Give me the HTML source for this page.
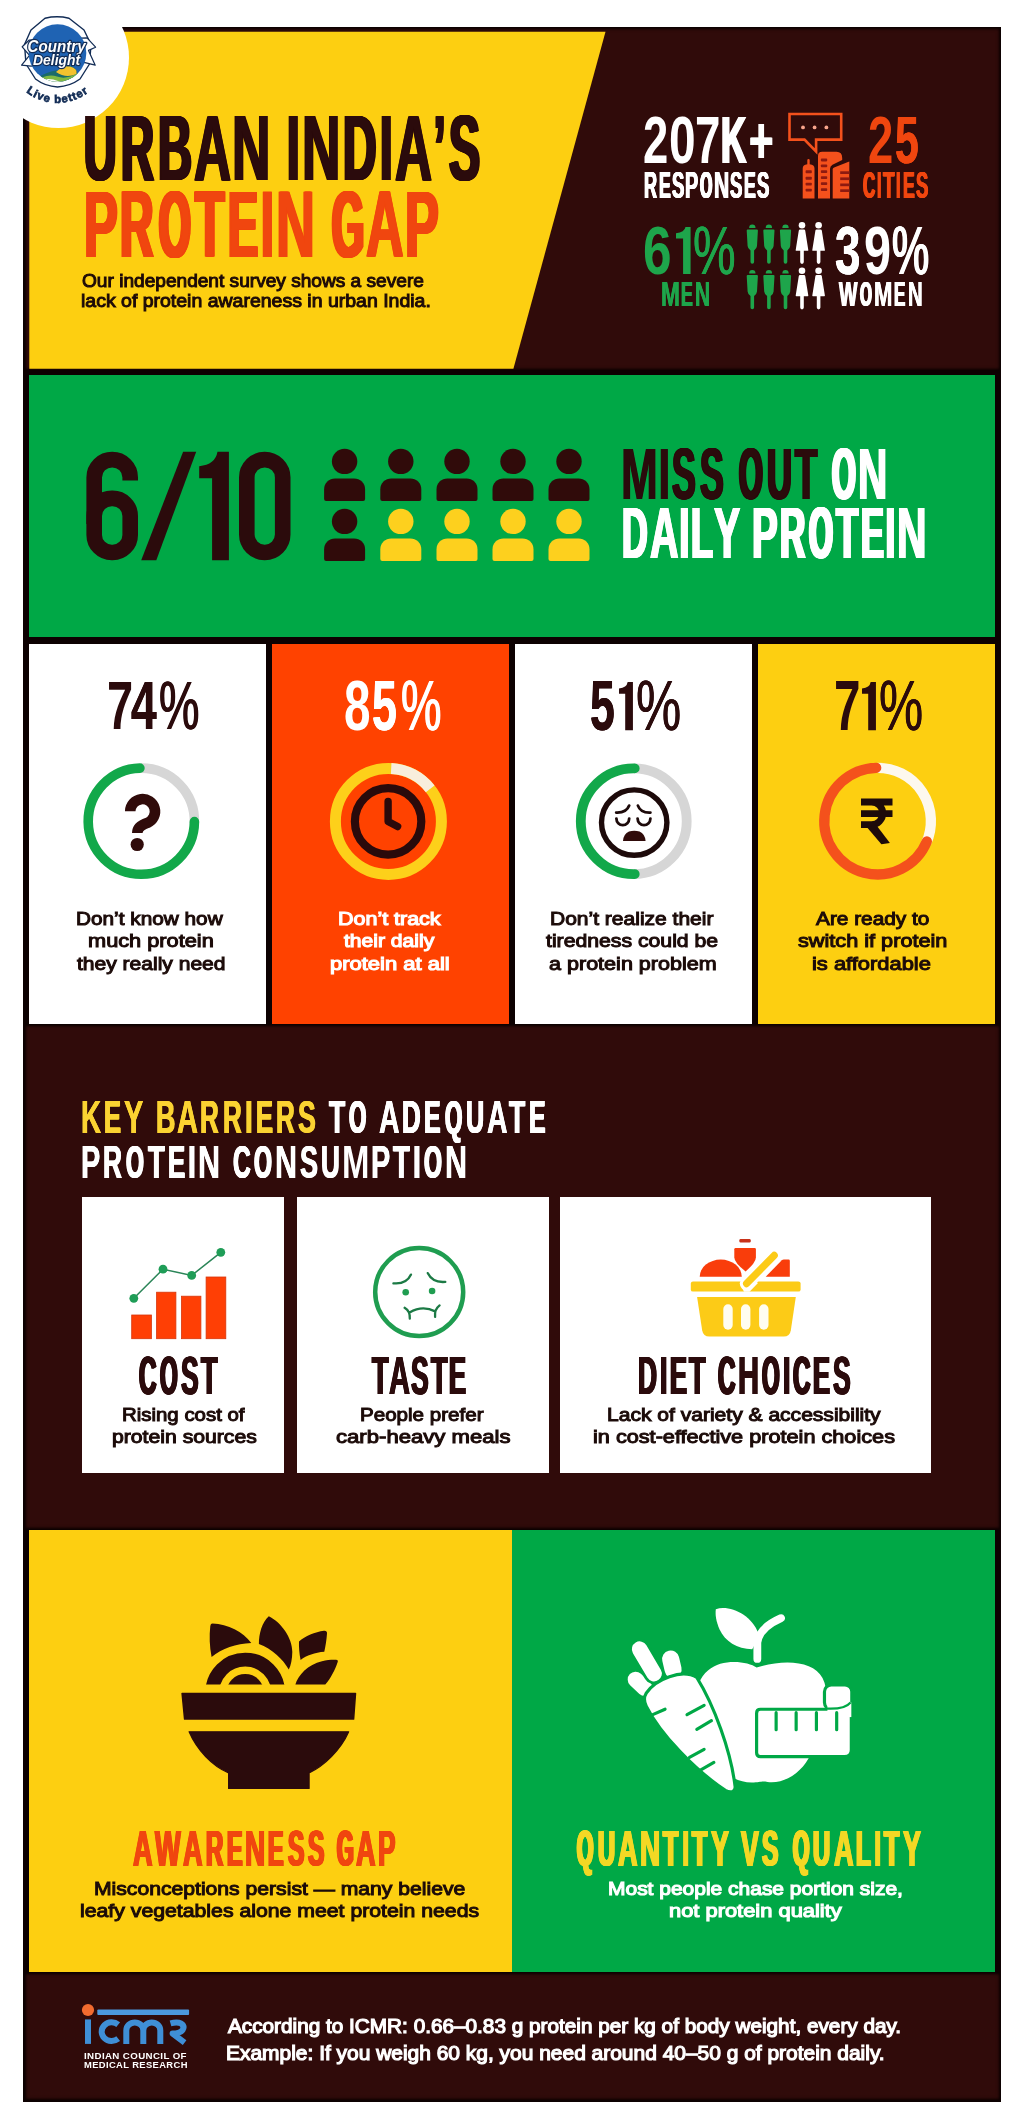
<!DOCTYPE html>
<html lang="en"><head><meta charset="utf-8"><title>Urban India's Protein Gap</title>
<style>
html,body{margin:0;padding:0;background:#fff;}
body{width:1024px;height:2124px;position:relative;overflow:hidden;font-family:"Liberation Sans",sans-serif;}
.b{position:absolute;}
.t{position:absolute;white-space:nowrap;font-weight:700;transform-origin:0 0;font-family:"Liberation Sans",sans-serif;}
svg{position:absolute;overflow:visible;}
#pg{position:absolute;left:0;top:0;width:1024px;height:2124px;will-change:transform;}
</style></head><body><div id="pg">
<div class="b" style="left:23.3px;top:26.5px;width:977.9px;height:2075.0px;background:#0d0101;"></div>
<div class="b" style="left:24.6px;top:28px;width:975.3px;height:341.5px;background:#300b0a;box-shadow:inset 0 0 2.5px 1.2px #0d0101;"></div>
<div class="b" style="left:24.6px;top:1025.4px;width:975.3px;height:503.8px;background:#300b0a;box-shadow:inset 0 0 2.5px 1.2px #0d0101;"></div>
<div class="b" style="left:24.6px;top:1972.8px;width:975.3px;height:127.4px;background:#300b0a;box-shadow:inset 0 0 2.5px 1.2px #0d0101;"></div>
<div class="b" style="left:0;top:0;width:1024px;height:400px;background:#fdcf11;clip-path:polygon(29.3px 31.8px,605.5px 31.8px,513.4px 368.8px,29.3px 368.8px);"></div>
<div class="b" style="left:29.3px;top:374.6px;width:965.5px;height:262.3px;background:#00a846;"></div>
<div class="b" style="left:29.3px;top:644.3px;width:236.3px;height:379.9px;background:#fff;"></div>
<div class="b" style="left:272.1px;top:644.3px;width:236.6px;height:379.9px;background:#ff4200;"></div>
<div class="b" style="left:515.1px;top:644.3px;width:236.5px;height:379.9px;background:#fff;"></div>
<div class="b" style="left:758.0px;top:644.3px;width:236.8px;height:379.9px;background:#fdcf11;"></div>
<div class="b" style="left:82.1px;top:1197.2px;width:202.3px;height:276.0px;background:#fff;"></div>
<div class="b" style="left:297.3px;top:1197.2px;width:251.5px;height:276.0px;background:#fff;"></div>
<div class="b" style="left:559.6px;top:1197.2px;width:371.1px;height:276.0px;background:#fff;"></div>
<div class="b" style="left:29.3px;top:1530.4px;width:482.3px;height:441.2px;background:#fdcf11;"></div>
<div class="b" style="left:511.6px;top:1530.4px;width:483.2px;height:441.2px;background:#00a846;"></div>
<div class="b" style="left:-12.5px;top:-13px;width:141px;height:141px;border-radius:50%;background:#fff;"></div>
<div class="t" style="left:84.1px;top:101.2px;font-size:93.6px;line-height:93.6px;color:#2b0b0c;transform:scaleX(0.4812);text-shadow:0.81px 0 0 #2b0b0c,-0.81px 0 0 #2b0b0c,1.61px 0 0 #2b0b0c,-1.61px 0 0 #2b0b0c,2.42px 0 0 #2b0b0c,-2.42px 0 0 #2b0b0c,3.23px 0 0 #2b0b0c,-3.23px 0 0 #2b0b0c;">U</div>
<div class="t" style="left:120.5px;top:101.2px;font-size:93.6px;line-height:93.6px;color:#2b0b0c;transform:scaleX(0.4879);text-shadow:0.77px 0 0 #2b0b0c,-0.77px 0 0 #2b0b0c,1.55px 0 0 #2b0b0c,-1.55px 0 0 #2b0b0c,2.32px 0 0 #2b0b0c,-2.32px 0 0 #2b0b0c,3.10px 0 0 #2b0b0c,-3.10px 0 0 #2b0b0c;">R</div>
<div class="t" style="left:157.8px;top:101.2px;font-size:93.6px;line-height:93.6px;color:#2b0b0c;transform:scaleX(0.5038);text-shadow:0.69px 0 0 #2b0b0c,-0.69px 0 0 #2b0b0c,1.39px 0 0 #2b0b0c,-1.39px 0 0 #2b0b0c,2.08px 0 0 #2b0b0c,-2.08px 0 0 #2b0b0c,2.77px 0 0 #2b0b0c,-2.77px 0 0 #2b0b0c;">B</div>
<div class="t" style="left:193.8px;top:101.2px;font-size:93.6px;line-height:93.6px;color:#2b0b0c;transform:scaleX(0.5481);text-shadow:0.67px 0 0 #2b0b0c,-0.67px 0 0 #2b0b0c,1.33px 0 0 #2b0b0c,-1.33px 0 0 #2b0b0c,2.00px 0 0 #2b0b0c,-2.00px 0 0 #2b0b0c;">A</div>
<div class="t" style="left:231.9px;top:101.2px;font-size:93.6px;line-height:93.6px;color:#2b0b0c;transform:scaleX(0.5672);text-shadow:0.84px 0 0 #2b0b0c,-0.84px 0 0 #2b0b0c,1.68px 0 0 #2b0b0c,-1.68px 0 0 #2b0b0c;">N</div>
<div class="t" style="left:285.3px;top:101.2px;font-size:93.6px;line-height:93.6px;color:#2b0b0c;transform:scaleX(0.6312);text-shadow:0.55px 0 0 #2b0b0c,-0.55px 0 0 #2b0b0c;">I</div>
<div class="t" style="left:302.1px;top:101.2px;font-size:93.6px;line-height:93.6px;color:#2b0b0c;transform:scaleX(0.5672);text-shadow:0.84px 0 0 #2b0b0c,-0.84px 0 0 #2b0b0c,1.68px 0 0 #2b0b0c,-1.68px 0 0 #2b0b0c;">N</div>
<div class="t" style="left:342.8px;top:101.2px;font-size:93.6px;line-height:93.6px;color:#2b0b0c;transform:scaleX(0.4959);text-shadow:0.73px 0 0 #2b0b0c,-0.73px 0 0 #2b0b0c,1.46px 0 0 #2b0b0c,-1.46px 0 0 #2b0b0c,2.20px 0 0 #2b0b0c,-2.20px 0 0 #2b0b0c,2.93px 0 0 #2b0b0c,-2.93px 0 0 #2b0b0c;">D</div>
<div class="t" style="left:378.1px;top:101.2px;font-size:93.6px;line-height:93.6px;color:#2b0b0c;transform:scaleX(0.6312);text-shadow:0.55px 0 0 #2b0b0c,-0.55px 0 0 #2b0b0c;">I</div>
<div class="t" style="left:394.5px;top:101.2px;font-size:93.6px;line-height:93.6px;color:#2b0b0c;transform:scaleX(0.5481);text-shadow:0.67px 0 0 #2b0b0c,-0.67px 0 0 #2b0b0c,1.33px 0 0 #2b0b0c,-1.33px 0 0 #2b0b0c,2.00px 0 0 #2b0b0c,-2.00px 0 0 #2b0b0c;">A</div>
<div class="t" style="left:433.8px;top:101.2px;font-size:93.6px;line-height:93.6px;color:#2b0b0c;transform:scaleX(0.4324);text-shadow:0.73px 0 0 #2b0b0c,-0.73px 0 0 #2b0b0c,1.46px 0 0 #2b0b0c,-1.46px 0 0 #2b0b0c,2.19px 0 0 #2b0b0c,-2.19px 0 0 #2b0b0c,2.92px 0 0 #2b0b0c,-2.92px 0 0 #2b0b0c;">’</div>
<div class="t" style="left:449.3px;top:101.2px;font-size:93.6px;line-height:93.6px;color:#2b0b0c;transform:scaleX(0.4985);text-shadow:0.72px 0 0 #2b0b0c,-0.72px 0 0 #2b0b0c,1.44px 0 0 #2b0b0c,-1.44px 0 0 #2b0b0c,2.15px 0 0 #2b0b0c,-2.15px 0 0 #2b0b0c,2.87px 0 0 #2b0b0c,-2.87px 0 0 #2b0b0c;">S</div>
<div class="t" style="left:83.6px;top:176.9px;font-size:95.1px;line-height:95.1px;color:#f0460f;transform:scaleX(0.5338);text-shadow:0.75px 0 0 #f0460f,-0.75px 0 0 #f0460f,1.50px 0 0 #f0460f,-1.50px 0 0 #f0460f,2.24px 0 0 #f0460f,-2.24px 0 0 #f0460f;">P</div>
<div class="t" style="left:120.1px;top:176.9px;font-size:95.1px;line-height:95.1px;color:#f0460f;transform:scaleX(0.4879);text-shadow:0.79px 0 0 #f0460f,-0.79px 0 0 #f0460f,1.57px 0 0 #f0460f,-1.57px 0 0 #f0460f,2.36px 0 0 #f0460f,-2.36px 0 0 #f0460f,3.15px 0 0 #f0460f,-3.15px 0 0 #f0460f;">R</div>
<div class="t" style="left:159.0px;top:176.9px;font-size:95.1px;line-height:95.1px;color:#f0460f;transform:scaleX(0.4265);text-shadow:0.78px 0 0 #f0460f,-0.78px 0 0 #f0460f,1.55px 0 0 #f0460f,-1.55px 0 0 #f0460f,2.33px 0 0 #f0460f,-2.33px 0 0 #f0460f,3.10px 0 0 #f0460f,-3.10px 0 0 #f0460f,3.88px 0 0 #f0460f,-3.88px 0 0 #f0460f,4.65px 0 0 #f0460f,-4.65px 0 0 #f0460f;">O</div>
<div class="t" style="left:194.8px;top:176.9px;font-size:95.1px;line-height:95.1px;color:#f0460f;transform:scaleX(0.5080);text-shadow:0.68px 0 0 #f0460f,-0.68px 0 0 #f0460f,1.36px 0 0 #f0460f,-1.36px 0 0 #f0460f,2.04px 0 0 #f0460f,-2.04px 0 0 #f0460f,2.72px 0 0 #f0460f,-2.72px 0 0 #f0460f;">T</div>
<div class="t" style="left:227.6px;top:176.9px;font-size:95.1px;line-height:95.1px;color:#f0460f;transform:scaleX(0.4760);text-shadow:0.84px 0 0 #f0460f,-0.84px 0 0 #f0460f,1.68px 0 0 #f0460f,-1.68px 0 0 #f0460f,2.52px 0 0 #f0460f,-2.52px 0 0 #f0460f,3.36px 0 0 #f0460f,-3.36px 0 0 #f0460f;">E</div>
<div class="t" style="left:258.9px;top:176.9px;font-size:95.1px;line-height:95.1px;color:#f0460f;transform:scaleX(0.6312);text-shadow:0.55px 0 0 #f0460f,-0.55px 0 0 #f0460f;">I</div>
<div class="t" style="left:275.6px;top:176.9px;font-size:95.1px;line-height:95.1px;color:#f0460f;transform:scaleX(0.5672);text-shadow:0.85px 0 0 #f0460f,-0.85px 0 0 #f0460f,1.71px 0 0 #f0460f,-1.71px 0 0 #f0460f;">N</div>
<div class="t" style="left:332.2px;top:176.9px;font-size:95.1px;line-height:95.1px;color:#f0460f;transform:scaleX(0.4336);text-shadow:0.89px 0 0 #f0460f,-0.89px 0 0 #f0460f,1.78px 0 0 #f0460f,-1.78px 0 0 #f0460f,2.67px 0 0 #f0460f,-2.67px 0 0 #f0460f,3.56px 0 0 #f0460f,-3.56px 0 0 #f0460f,4.45px 0 0 #f0460f,-4.45px 0 0 #f0460f;">G</div>
<div class="t" style="left:366.2px;top:176.9px;font-size:95.1px;line-height:95.1px;color:#f0460f;transform:scaleX(0.5481);text-shadow:0.68px 0 0 #f0460f,-0.68px 0 0 #f0460f,1.36px 0 0 #f0460f,-1.36px 0 0 #f0460f,2.03px 0 0 #f0460f,-2.03px 0 0 #f0460f;">A</div>
<div class="t" style="left:404.9px;top:176.9px;font-size:95.1px;line-height:95.1px;color:#f0460f;transform:scaleX(0.5338);text-shadow:0.75px 0 0 #f0460f,-0.75px 0 0 #f0460f,1.50px 0 0 #f0460f,-1.50px 0 0 #f0460f,2.24px 0 0 #f0460f,-2.24px 0 0 #f0460f;">P</div>
<div class="t" style="left:643.1px;top:106.0px;font-size:67.3px;line-height:67.3px;color:#fff;transform:scaleX(0.6749);">2</div>
<div class="t" style="left:668.7px;top:106.0px;font-size:67.3px;line-height:67.3px;color:#fff;transform:scaleX(0.7109);">0</div>
<div class="t" style="left:695.1px;top:106.0px;font-size:67.3px;line-height:67.3px;color:#fff;transform:scaleX(0.6791);">7</div>
<div class="t" style="left:720.7px;top:106.0px;font-size:67.3px;line-height:67.3px;color:#fff;transform:scaleX(0.5243);text-shadow:0.86px 0 0 #fff,-0.86px 0 0 #fff,1.73px 0 0 #fff,-1.73px 0 0 #fff;">K</div>
<div class="t" style="left:748.5px;top:106.0px;font-size:67.3px;line-height:67.3px;color:#fff;transform:scaleX(0.6231);text-shadow:0.64px 0 0 #fff,-0.64px 0 0 #fff;">+</div>
<div class="t" style="left:643.9px;top:167.0px;font-size:37.1px;line-height:37.1px;color:#fff;transform:scaleX(0.4879);text-shadow:0.61px 0 0 #fff,-0.61px 0 0 #fff,1.23px 0 0 #fff,-1.23px 0 0 #fff;">R</div>
<div class="t" style="left:658.7px;top:167.0px;font-size:37.1px;line-height:37.1px;color:#fff;transform:scaleX(0.4760);text-shadow:0.66px 0 0 #fff,-0.66px 0 0 #fff,1.31px 0 0 #fff,-1.31px 0 0 #fff;">E</div>
<div class="t" style="left:672.0px;top:167.0px;font-size:37.1px;line-height:37.1px;color:#fff;transform:scaleX(0.4985);text-shadow:0.57px 0 0 #fff,-0.57px 0 0 #fff,1.14px 0 0 #fff,-1.14px 0 0 #fff;">S</div>
<div class="t" style="left:685.4px;top:167.0px;font-size:37.1px;line-height:37.1px;color:#fff;transform:scaleX(0.5338);text-shadow:0.88px 0 0 #fff,-0.88px 0 0 #fff;">P</div>
<div class="t" style="left:700.2px;top:167.0px;font-size:37.1px;line-height:37.1px;color:#fff;transform:scaleX(0.4265);text-shadow:0.60px 0 0 #fff,-0.60px 0 0 #fff,1.21px 0 0 #fff,-1.21px 0 0 #fff,1.81px 0 0 #fff,-1.81px 0 0 #fff;">O</div>
<div class="t" style="left:713.9px;top:167.0px;font-size:37.1px;line-height:37.1px;color:#fff;transform:scaleX(0.5672);text-shadow:0.67px 0 0 #fff,-0.67px 0 0 #fff;">N</div>
<div class="t" style="left:730.1px;top:167.0px;font-size:37.1px;line-height:37.1px;color:#fff;transform:scaleX(0.4985);text-shadow:0.57px 0 0 #fff,-0.57px 0 0 #fff,1.14px 0 0 #fff,-1.14px 0 0 #fff;">S</div>
<div class="t" style="left:743.8px;top:167.0px;font-size:37.1px;line-height:37.1px;color:#fff;transform:scaleX(0.4760);text-shadow:0.66px 0 0 #fff,-0.66px 0 0 #fff,1.31px 0 0 #fff,-1.31px 0 0 #fff;">E</div>
<div class="t" style="left:757.1px;top:167.0px;font-size:37.1px;line-height:37.1px;color:#fff;transform:scaleX(0.4985);text-shadow:0.57px 0 0 #fff,-0.57px 0 0 #fff,1.14px 0 0 #fff,-1.14px 0 0 #fff;">S</div>
<div class="t" style="left:867.8px;top:106.0px;font-size:67.3px;line-height:67.3px;color:#f0460f;transform:scaleX(0.6749);">2</div>
<div class="t" style="left:894.7px;top:106.0px;font-size:67.3px;line-height:67.3px;color:#f0460f;transform:scaleX(0.6356);text-shadow:0.53px 0 0 #f0460f,-0.53px 0 0 #f0460f;">5</div>
<div class="t" style="left:862.5px;top:167.0px;font-size:37.1px;line-height:37.1px;color:#f0460f;transform:scaleX(0.4557);text-shadow:0.76px 0 0 #f0460f,-0.76px 0 0 #f0460f,1.51px 0 0 #f0460f,-1.51px 0 0 #f0460f;">C</div>
<div class="t" style="left:875.7px;top:167.0px;font-size:37.1px;line-height:37.1px;color:#f0460f;transform:scaleX(0.6312);">I</div>
<div class="t" style="left:882.9px;top:167.0px;font-size:37.1px;line-height:37.1px;color:#f0460f;transform:scaleX(0.5080);text-shadow:0.53px 0 0 #f0460f,-0.53px 0 0 #f0460f,1.06px 0 0 #f0460f,-1.06px 0 0 #f0460f;">T</div>
<div class="t" style="left:895.2px;top:167.0px;font-size:37.1px;line-height:37.1px;color:#f0460f;transform:scaleX(0.6312);">I</div>
<div class="t" style="left:902.5px;top:167.0px;font-size:37.1px;line-height:37.1px;color:#f0460f;transform:scaleX(0.4760);text-shadow:0.66px 0 0 #f0460f,-0.66px 0 0 #f0460f,1.31px 0 0 #f0460f,-1.31px 0 0 #f0460f;">E</div>
<div class="t" style="left:916.0px;top:167.0px;font-size:37.1px;line-height:37.1px;color:#f0460f;transform:scaleX(0.4985);text-shadow:0.57px 0 0 #f0460f,-0.57px 0 0 #f0460f,1.14px 0 0 #f0460f,-1.14px 0 0 #f0460f;">S</div>
<div class="t" style="left:642.6px;top:215.9px;font-size:68.2px;line-height:68.2px;color:#1ea54b;transform:scaleX(0.7537);">6</div>
<svg width="16.6" height="48.9" viewBox="-1 -1 16.6 48.9" style="left:675.0px;top:225.7px;"><path d="M14.59,0H9.48Q8.58,5.63 0,6.24V11.40H7.08V46.90H14.59z" fill="#1ea54b"/></svg>
<div class="t" style="left:693.1px;top:215.9px;font-size:68.2px;line-height:68.2px;color:#1ea54b;transform:scaleX(0.7031);text-shadow:0.50px 0 0 #1ea54b,-0.50px 0 0 #1ea54b;letter-spacing:0.05em;font-weight:400;">%</div>
<div class="t" style="left:660.5px;top:277.2px;font-size:35.8px;line-height:35.8px;color:#1ea54b;transform:scaleX(0.6340);text-shadow:0.30px 0 0 #1ea54b,-0.30px 0 0 #1ea54b;">M</div>
<div class="t" style="left:681.4px;top:277.2px;font-size:35.8px;line-height:35.8px;color:#1ea54b;transform:scaleX(0.4902);text-shadow:0.58px 0 0 #1ea54b,-0.58px 0 0 #1ea54b,1.15px 0 0 #1ea54b,-1.15px 0 0 #1ea54b;">E</div>
<div class="t" style="left:695.3px;top:277.2px;font-size:35.8px;line-height:35.8px;color:#1ea54b;transform:scaleX(0.5830);text-shadow:0.55px 0 0 #1ea54b,-0.55px 0 0 #1ea54b;">N</div>
<div class="t" style="left:835.0px;top:215.9px;font-size:68.2px;line-height:68.2px;color:#fff;transform:scaleX(0.6721);text-shadow:0.24px 0 0 #fff,-0.24px 0 0 #fff;">3</div>
<div class="t" style="left:863.6px;top:215.9px;font-size:68.2px;line-height:68.2px;color:#fff;transform:scaleX(0.7141);">9</div>
<div class="t" style="left:891.9px;top:215.9px;font-size:68.2px;line-height:68.2px;color:#fff;transform:scaleX(0.6122);text-shadow:0.52px 0 0 #fff,-0.52px 0 0 #fff,1.04px 0 0 #fff,-1.04px 0 0 #fff;letter-spacing:0.05em;font-weight:400;">%</div>
<div class="t" style="left:839.3px;top:277.2px;font-size:35.8px;line-height:35.8px;color:#fff;transform:scaleX(0.5461);text-shadow:0.79px 0 0 #fff,-0.79px 0 0 #fff;">W</div>
<div class="t" style="left:860.4px;top:277.2px;font-size:35.8px;line-height:35.8px;color:#fff;transform:scaleX(0.4265);text-shadow:0.87px 0 0 #fff,-0.87px 0 0 #fff,1.75px 0 0 #fff,-1.75px 0 0 #fff;">O</div>
<div class="t" style="left:874.3px;top:277.2px;font-size:35.8px;line-height:35.8px;color:#fff;transform:scaleX(0.6182);text-shadow:0.38px 0 0 #fff,-0.38px 0 0 #fff;">M</div>
<div class="t" style="left:894.3px;top:277.2px;font-size:35.8px;line-height:35.8px;color:#fff;transform:scaleX(0.4760);text-shadow:0.63px 0 0 #fff,-0.63px 0 0 #fff,1.27px 0 0 #fff,-1.27px 0 0 #fff;">E</div>
<div class="t" style="left:907.6px;top:277.2px;font-size:35.8px;line-height:35.8px;color:#fff;transform:scaleX(0.5672);text-shadow:0.64px 0 0 #fff,-0.64px 0 0 #fff;">N</div>
<svg width="220" height="112" viewBox="80 450 220 112" style="left:80px;top:450px;"><g fill="none" stroke="#2b0b0c" stroke-width="15.6"><rect x="94.2" y="498.4" width="36" height="54.1" rx="17.6" ry="17.6"/><path d="M94.2,524V477.4A18,17.8 0 0 1 130.2,477.4V480.4"/><rect x="246.8" y="459.6" width="35.9" height="92.9" rx="17.9" ry="17.9"/></g><path d="M183.1,451.8H196.2L156.3,560.3H141.2z" fill="#2b0b0c"/><path d="M228.9,451.8H217.5Q215.3,464.7 199.2,466.2V478.2H212.1V560.3H228.9z" fill="#2b0b0c"/></svg>
<div class="t" style="left:621.0px;top:439.3px;font-size:71.5px;line-height:71.5px;color:#2b0b0c;transform:scaleX(0.6182);text-shadow:0.75px 0 0 #2b0b0c,-0.75px 0 0 #2b0b0c;">M</div>
<div class="t" style="left:658.0px;top:439.3px;font-size:71.5px;line-height:71.5px;color:#2b0b0c;transform:scaleX(0.6312);text-shadow:0.42px 0 0 #2b0b0c,-0.42px 0 0 #2b0b0c;">I</div>
<div class="t" style="left:672.4px;top:439.3px;font-size:71.5px;line-height:71.5px;color:#2b0b0c;transform:scaleX(0.4985);text-shadow:0.73px 0 0 #2b0b0c,-0.73px 0 0 #2b0b0c,1.46px 0 0 #2b0b0c,-1.46px 0 0 #2b0b0c,2.19px 0 0 #2b0b0c,-2.19px 0 0 #2b0b0c;">S</div>
<div class="t" style="left:699.6px;top:439.3px;font-size:71.5px;line-height:71.5px;color:#2b0b0c;transform:scaleX(0.4985);text-shadow:0.73px 0 0 #2b0b0c,-0.73px 0 0 #2b0b0c,1.46px 0 0 #2b0b0c,-1.46px 0 0 #2b0b0c,2.19px 0 0 #2b0b0c,-2.19px 0 0 #2b0b0c;">S</div>
<div class="t" style="left:738.9px;top:439.3px;font-size:71.5px;line-height:71.5px;color:#2b0b0c;transform:scaleX(0.4265);text-shadow:0.87px 0 0 #2b0b0c,-0.87px 0 0 #2b0b0c,1.75px 0 0 #2b0b0c,-1.75px 0 0 #2b0b0c,2.62px 0 0 #2b0b0c,-2.62px 0 0 #2b0b0c,3.50px 0 0 #2b0b0c,-3.50px 0 0 #2b0b0c;">O</div>
<div class="t" style="left:766.9px;top:439.3px;font-size:71.5px;line-height:71.5px;color:#2b0b0c;transform:scaleX(0.4812);text-shadow:0.82px 0 0 #2b0b0c,-0.82px 0 0 #2b0b0c,1.64px 0 0 #2b0b0c,-1.64px 0 0 #2b0b0c,2.46px 0 0 #2b0b0c,-2.46px 0 0 #2b0b0c;">U</div>
<div class="t" style="left:795.1px;top:439.3px;font-size:71.5px;line-height:71.5px;color:#2b0b0c;transform:scaleX(0.5080);text-shadow:0.68px 0 0 #2b0b0c,-0.68px 0 0 #2b0b0c,1.37px 0 0 #2b0b0c,-1.37px 0 0 #2b0b0c,2.05px 0 0 #2b0b0c,-2.05px 0 0 #2b0b0c;">T</div>
<div class="t" style="left:831.9px;top:439.3px;font-size:71.5px;line-height:71.5px;color:#fff;transform:scaleX(0.4265);text-shadow:0.87px 0 0 #fff,-0.87px 0 0 #fff,1.75px 0 0 #fff,-1.75px 0 0 #fff,2.62px 0 0 #fff,-2.62px 0 0 #fff,3.50px 0 0 #fff,-3.50px 0 0 #fff;">O</div>
<div class="t" style="left:858.2px;top:439.3px;font-size:71.5px;line-height:71.5px;color:#fff;transform:scaleX(0.5672);text-shadow:0.64px 0 0 #fff,-0.64px 0 0 #fff,1.28px 0 0 #fff,-1.28px 0 0 #fff;">N</div>
<div class="t" style="left:622.2px;top:496.6px;font-size:72.1px;line-height:72.1px;color:#fff;transform:scaleX(0.4959);text-shadow:0.75px 0 0 #fff,-0.75px 0 0 #fff,1.50px 0 0 #fff,-1.50px 0 0 #fff,2.26px 0 0 #fff,-2.26px 0 0 #fff;">D</div>
<div class="t" style="left:649.5px;top:496.6px;font-size:72.1px;line-height:72.1px;color:#fff;transform:scaleX(0.5481);text-shadow:0.77px 0 0 #fff,-0.77px 0 0 #fff,1.54px 0 0 #fff,-1.54px 0 0 #fff;">A</div>
<div class="t" style="left:677.6px;top:496.6px;font-size:72.1px;line-height:72.1px;color:#fff;transform:scaleX(0.6312);text-shadow:0.42px 0 0 #fff,-0.42px 0 0 #fff;">I</div>
<div class="t" style="left:690.8px;top:496.6px;font-size:72.1px;line-height:72.1px;color:#fff;transform:scaleX(0.4987);text-shadow:0.72px 0 0 #fff,-0.72px 0 0 #fff,1.45px 0 0 #fff,-1.45px 0 0 #fff,2.17px 0 0 #fff,-2.17px 0 0 #fff;">L</div>
<div class="t" style="left:713.6px;top:496.6px;font-size:72.1px;line-height:72.1px;color:#fff;transform:scaleX(0.5457);text-shadow:0.78px 0 0 #fff,-0.78px 0 0 #fff,1.57px 0 0 #fff,-1.57px 0 0 #fff;">Y</div>
<div class="t" style="left:751.9px;top:496.6px;font-size:72.1px;line-height:72.1px;color:#fff;transform:scaleX(0.5338);text-shadow:0.85px 0 0 #fff,-0.85px 0 0 #fff,1.70px 0 0 #fff,-1.70px 0 0 #fff;">P</div>
<div class="t" style="left:779.6px;top:496.6px;font-size:72.1px;line-height:72.1px;color:#fff;transform:scaleX(0.4879);text-shadow:0.80px 0 0 #fff,-0.80px 0 0 #fff,1.59px 0 0 #fff,-1.59px 0 0 #fff,2.39px 0 0 #fff,-2.39px 0 0 #fff;">R</div>
<div class="t" style="left:808.9px;top:496.6px;font-size:72.1px;line-height:72.1px;color:#fff;transform:scaleX(0.4265);text-shadow:0.88px 0 0 #fff,-0.88px 0 0 #fff,1.76px 0 0 #fff,-1.76px 0 0 #fff,2.65px 0 0 #fff,-2.65px 0 0 #fff,3.53px 0 0 #fff,-3.53px 0 0 #fff;">O</div>
<div class="t" style="left:835.9px;top:496.6px;font-size:72.1px;line-height:72.1px;color:#fff;transform:scaleX(0.5080);text-shadow:0.69px 0 0 #fff,-0.69px 0 0 #fff,1.38px 0 0 #fff,-1.38px 0 0 #fff,2.07px 0 0 #fff,-2.07px 0 0 #fff;">T</div>
<div class="t" style="left:860.7px;top:496.6px;font-size:72.1px;line-height:72.1px;color:#fff;transform:scaleX(0.4760);text-shadow:0.85px 0 0 #fff,-0.85px 0 0 #fff,1.70px 0 0 #fff,-1.70px 0 0 #fff,2.55px 0 0 #fff,-2.55px 0 0 #fff;">E</div>
<div class="t" style="left:884.4px;top:496.6px;font-size:72.1px;line-height:72.1px;color:#fff;transform:scaleX(0.6312);text-shadow:0.42px 0 0 #fff,-0.42px 0 0 #fff;">I</div>
<div class="t" style="left:896.9px;top:496.6px;font-size:72.1px;line-height:72.1px;color:#fff;transform:scaleX(0.5672);text-shadow:0.65px 0 0 #fff,-0.65px 0 0 #fff,1.29px 0 0 #fff,-1.29px 0 0 #fff;">N</div>
<div class="t" style="left:107.3px;top:671.3px;font-size:69.3px;line-height:69.3px;color:#2b0b0c;transform:scaleX(0.6791);">7</div>
<div class="t" style="left:131.0px;top:671.3px;font-size:69.3px;line-height:69.3px;color:#2b0b0c;transform:scaleX(0.6641);text-shadow:0.31px 0 0 #2b0b0c,-0.31px 0 0 #2b0b0c;">4</div>
<div class="t" style="left:159.0px;top:671.3px;font-size:69.3px;line-height:69.3px;color:#2b0b0c;transform:scaleX(0.6558);text-shadow:0.77px 0 0 #2b0b0c,-0.77px 0 0 #2b0b0c;letter-spacing:0.05em;font-weight:400;">%</div>
<div class="t" style="left:343.7px;top:670.8px;font-size:70.5px;line-height:70.5px;color:#fff;transform:scaleX(0.6766);">8</div>
<div class="t" style="left:372.2px;top:670.8px;font-size:70.5px;line-height:70.5px;color:#fff;transform:scaleX(0.6356);text-shadow:0.56px 0 0 #fff,-0.56px 0 0 #fff;">5</div>
<div class="t" style="left:400.9px;top:670.8px;font-size:70.5px;line-height:70.5px;color:#fff;transform:scaleX(0.6452);text-shadow:0.85px 0 0 #fff,-0.85px 0 0 #fff;letter-spacing:0.05em;font-weight:400;">%</div>
<div class="t" style="left:590.4px;top:670.9px;font-size:70.2px;line-height:70.2px;color:#2b0b0c;transform:scaleX(0.6356);text-shadow:0.56px 0 0 #2b0b0c,-0.56px 0 0 #2b0b0c;">5</div>
<svg width="15.9" height="50.3" viewBox="-1 -1 15.9 50.3" style="left:618.2px;top:681.0px;"><path d="M13.94,0H8.68Q7.76,5.80 0,6.42V11.74H6.21V48.30H13.94z" fill="#2b0b0c"/></svg>
<div class="t" style="left:636.3px;top:670.9px;font-size:70.2px;line-height:70.2px;color:#2b0b0c;transform:scaleX(0.7249);text-shadow:0.40px 0 0 #2b0b0c,-0.40px 0 0 #2b0b0c;letter-spacing:0.05em;font-weight:400;">%</div>
<div class="t" style="left:834.2px;top:670.9px;font-size:70.2px;line-height:70.2px;color:#2b0b0c;transform:scaleX(0.6791);">7</div>
<svg width="15.9" height="50.3" viewBox="-1 -1 15.9 50.3" style="left:861.1px;top:681.0px;"><path d="M13.94,0H8.68Q7.76,5.80 0,6.42V11.74H6.21V48.30H13.94z" fill="#2b0b0c"/></svg>
<div class="t" style="left:879.3px;top:670.9px;font-size:70.2px;line-height:70.2px;color:#2b0b0c;transform:scaleX(0.7072);text-shadow:0.49px 0 0 #2b0b0c,-0.49px 0 0 #2b0b0c;letter-spacing:0.05em;font-weight:400;">%</div>
<div class="t" style="left:76.3px;top:909.8px;font-size:18.3px;line-height:18.3px;color:#1c0b09;transform:scaleX(1.1364);font-weight:400;-webkit-text-stroke:1.0px #1c0b09;">Don’t know how</div>
<div class="t" style="left:87.9px;top:932.2px;font-size:18.3px;line-height:18.3px;color:#1c0b09;transform:scaleX(1.1904);font-weight:400;-webkit-text-stroke:1.0px #1c0b09;">much protein</div>
<div class="t" style="left:76.7px;top:954.7px;font-size:18.3px;line-height:18.3px;color:#1c0b09;transform:scaleX(1.1504);font-weight:400;-webkit-text-stroke:1.0px #1c0b09;">they really need</div>
<div class="t" style="left:337.7px;top:909.8px;font-size:18.3px;line-height:18.3px;color:#fff;transform:scaleX(1.1741);font-weight:400;-webkit-text-stroke:1.15px #fff;">Don’t track</div>
<div class="t" style="left:344.2px;top:932.2px;font-size:18.3px;line-height:18.3px;color:#fff;transform:scaleX(1.1533);font-weight:400;-webkit-text-stroke:1.15px #fff;">their daily</div>
<div class="t" style="left:330.1px;top:954.7px;font-size:18.3px;line-height:18.3px;color:#fff;transform:scaleX(1.2020);font-weight:400;-webkit-text-stroke:1.15px #fff;">protein at all</div>
<div class="t" style="left:549.7px;top:909.8px;font-size:18.3px;line-height:18.3px;color:#1c0b09;transform:scaleX(1.1490);font-weight:400;-webkit-text-stroke:1.0px #1c0b09;">Don’t realize their</div>
<div class="t" style="left:546.1px;top:932.2px;font-size:18.3px;line-height:18.3px;color:#1c0b09;transform:scaleX(1.1600);font-weight:400;-webkit-text-stroke:1.0px #1c0b09;">tiredness could be</div>
<div class="t" style="left:549.0px;top:954.7px;font-size:18.3px;line-height:18.3px;color:#1c0b09;transform:scaleX(1.1788);font-weight:400;-webkit-text-stroke:1.0px #1c0b09;">a protein problem</div>
<div class="t" style="left:816.4px;top:909.8px;font-size:18.3px;line-height:18.3px;color:#1c0b09;transform:scaleX(1.1385);font-weight:400;-webkit-text-stroke:1.0px #1c0b09;">Are ready to</div>
<div class="t" style="left:798.3px;top:932.2px;font-size:18.3px;line-height:18.3px;color:#1c0b09;transform:scaleX(1.1859);font-weight:400;-webkit-text-stroke:1.0px #1c0b09;">switch if protein</div>
<div class="t" style="left:812.4px;top:954.7px;font-size:18.3px;line-height:18.3px;color:#1c0b09;transform:scaleX(1.1978);font-weight:400;-webkit-text-stroke:1.0px #1c0b09;">is affordable</div>
<div class="t" style="left:81.4px;top:1093.9px;font-size:46.5px;line-height:46.5px;color:#fbd332;transform:scaleX(0.5993);text-shadow:0.61px 0 0 #fbd332,-0.61px 0 0 #fbd332;">K</div>
<div class="t" style="left:104.4px;top:1093.9px;font-size:46.5px;line-height:46.5px;color:#fbd332;transform:scaleX(0.5501);text-shadow:0.48px 0 0 #fbd332,-0.48px 0 0 #fbd332,0.96px 0 0 #fbd332,-0.96px 0 0 #fbd332;">E</div>
<div class="t" style="left:124.0px;top:1093.9px;font-size:46.5px;line-height:46.5px;color:#fbd332;transform:scaleX(0.6234);text-shadow:0.45px 0 0 #fbd332,-0.45px 0 0 #fbd332;">Y</div>
<div class="t" style="left:155.6px;top:1093.9px;font-size:46.5px;line-height:46.5px;color:#fbd332;transform:scaleX(0.5783);text-shadow:0.76px 0 0 #fbd332,-0.76px 0 0 #fbd332;">B</div>
<div class="t" style="left:177.2px;top:1093.9px;font-size:46.5px;line-height:46.5px;color:#fbd332;transform:scaleX(0.6246);text-shadow:0.45px 0 0 #fbd332,-0.45px 0 0 #fbd332;">A</div>
<div class="t" style="left:200.4px;top:1093.9px;font-size:46.5px;line-height:46.5px;color:#fbd332;transform:scaleX(0.5597);text-shadow:0.90px 0 0 #fbd332,-0.90px 0 0 #fbd332;">R</div>
<div class="t" style="left:222.7px;top:1093.9px;font-size:46.5px;line-height:46.5px;color:#fbd332;transform:scaleX(0.5597);text-shadow:0.90px 0 0 #fbd332,-0.90px 0 0 #fbd332;">R</div>
<div class="t" style="left:244.0px;top:1093.9px;font-size:46.5px;line-height:46.5px;color:#fbd332;transform:scaleX(0.7518);">I</div>
<div class="t" style="left:255.6px;top:1093.9px;font-size:46.5px;line-height:46.5px;color:#fbd332;transform:scaleX(0.5501);text-shadow:0.48px 0 0 #fbd332,-0.48px 0 0 #fbd332,0.96px 0 0 #fbd332,-0.96px 0 0 #fbd332;">E</div>
<div class="t" style="left:275.7px;top:1093.9px;font-size:46.5px;line-height:46.5px;color:#fbd332;transform:scaleX(0.5597);text-shadow:0.90px 0 0 #fbd332,-0.90px 0 0 #fbd332;">R</div>
<div class="t" style="left:298.3px;top:1093.9px;font-size:46.5px;line-height:46.5px;color:#fbd332;transform:scaleX(0.5730);text-shadow:0.79px 0 0 #fbd332,-0.79px 0 0 #fbd332;">S</div>
<div class="t" style="left:329.4px;top:1093.9px;font-size:46.5px;line-height:46.5px;color:#fff;transform:scaleX(0.5709);text-shadow:0.81px 0 0 #fff,-0.81px 0 0 #fff;">T</div>
<div class="t" style="left:349.3px;top:1093.9px;font-size:46.5px;line-height:46.5px;color:#fff;transform:scaleX(0.4790);text-shadow:0.82px 0 0 #fff,-0.82px 0 0 #fff,1.65px 0 0 #fff,-1.65px 0 0 #fff;">O</div>
<div class="t" style="left:379.4px;top:1093.9px;font-size:46.5px;line-height:46.5px;color:#fff;transform:scaleX(0.6115);text-shadow:0.53px 0 0 #fff,-0.53px 0 0 #fff;">A</div>
<div class="t" style="left:402.2px;top:1093.9px;font-size:46.5px;line-height:46.5px;color:#fff;transform:scaleX(0.5568);text-shadow:0.46px 0 0 #fff,-0.46px 0 0 #fff,0.92px 0 0 #fff,-0.92px 0 0 #fff;">D</div>
<div class="t" style="left:424.2px;top:1093.9px;font-size:46.5px;line-height:46.5px;color:#fff;transform:scaleX(0.5374);text-shadow:0.53px 0 0 #fff,-0.53px 0 0 #fff,1.07px 0 0 #fff,-1.07px 0 0 #fff;">E</div>
<div class="t" style="left:444.6px;top:1093.9px;font-size:46.5px;line-height:46.5px;color:#fff;transform:scaleX(0.4790);text-shadow:0.82px 0 0 #fff,-0.82px 0 0 #fff,1.65px 0 0 #fff,-1.65px 0 0 #fff;">Q</div>
<div class="t" style="left:465.8px;top:1093.9px;font-size:46.5px;line-height:46.5px;color:#fff;transform:scaleX(0.5413);text-shadow:0.52px 0 0 #fff,-0.52px 0 0 #fff,1.04px 0 0 #fff,-1.04px 0 0 #fff;">U</div>
<div class="t" style="left:486.5px;top:1093.9px;font-size:46.5px;line-height:46.5px;color:#fff;transform:scaleX(0.6115);text-shadow:0.53px 0 0 #fff,-0.53px 0 0 #fff;">A</div>
<div class="t" style="left:509.4px;top:1093.9px;font-size:46.5px;line-height:46.5px;color:#fff;transform:scaleX(0.5709);text-shadow:0.81px 0 0 #fff,-0.81px 0 0 #fff;">T</div>
<div class="t" style="left:528.7px;top:1093.9px;font-size:46.5px;line-height:46.5px;color:#fff;transform:scaleX(0.5374);text-shadow:0.53px 0 0 #fff,-0.53px 0 0 #fff,1.07px 0 0 #fff,-1.07px 0 0 #fff;">E</div>
<div class="t" style="left:81.3px;top:1138.6px;font-size:46.5px;line-height:46.5px;color:#fff;transform:scaleX(0.6204);text-shadow:0.47px 0 0 #fff,-0.47px 0 0 #fff;">P</div>
<div class="t" style="left:103.2px;top:1138.6px;font-size:46.5px;line-height:46.5px;color:#fff;transform:scaleX(0.5659);text-shadow:0.85px 0 0 #fff,-0.85px 0 0 #fff;">R</div>
<div class="t" style="left:126.4px;top:1138.6px;font-size:46.5px;line-height:46.5px;color:#fff;transform:scaleX(0.4952);text-shadow:0.74px 0 0 #fff,-0.74px 0 0 #fff,1.48px 0 0 #fff,-1.48px 0 0 #fff;">O</div>
<div class="t" style="left:147.9px;top:1138.6px;font-size:46.5px;line-height:46.5px;color:#fff;transform:scaleX(0.5904);text-shadow:0.67px 0 0 #fff,-0.67px 0 0 #fff;">T</div>
<div class="t" style="left:167.6px;top:1138.6px;font-size:46.5px;line-height:46.5px;color:#fff;transform:scaleX(0.5565);text-shadow:0.46px 0 0 #fff,-0.46px 0 0 #fff,0.91px 0 0 #fff,-0.91px 0 0 #fff;">E</div>
<div class="t" style="left:186.8px;top:1138.6px;font-size:46.5px;line-height:46.5px;color:#fff;transform:scaleX(0.7578);">I</div>
<div class="t" style="left:197.8px;top:1138.6px;font-size:46.5px;line-height:46.5px;color:#fff;transform:scaleX(0.6563);text-shadow:0.25px 0 0 #fff,-0.25px 0 0 #fff;">N</div>
<div class="t" style="left:232.6px;top:1138.6px;font-size:46.5px;line-height:46.5px;color:#fff;transform:scaleX(0.5293);text-shadow:0.58px 0 0 #fff,-0.58px 0 0 #fff,1.15px 0 0 #fff,-1.15px 0 0 #fff;">C</div>
<div class="t" style="left:254.3px;top:1138.6px;font-size:46.5px;line-height:46.5px;color:#fff;transform:scaleX(0.4952);text-shadow:0.74px 0 0 #fff,-0.74px 0 0 #fff,1.48px 0 0 #fff,-1.48px 0 0 #fff;">O</div>
<div class="t" style="left:275.2px;top:1138.6px;font-size:46.5px;line-height:46.5px;color:#fff;transform:scaleX(0.6563);text-shadow:0.25px 0 0 #fff,-0.25px 0 0 #fff;">N</div>
<div class="t" style="left:299.8px;top:1138.6px;font-size:46.5px;line-height:46.5px;color:#fff;transform:scaleX(0.5794);text-shadow:0.75px 0 0 #fff,-0.75px 0 0 #fff;">S</div>
<div class="t" style="left:320.9px;top:1138.6px;font-size:46.5px;line-height:46.5px;color:#fff;transform:scaleX(0.5600);text-shadow:0.89px 0 0 #fff,-0.89px 0 0 #fff;">U</div>
<div class="t" style="left:341.9px;top:1138.6px;font-size:46.5px;line-height:46.5px;color:#fff;transform:scaleX(0.7073);">M</div>
<div class="t" style="left:370.9px;top:1138.6px;font-size:46.5px;line-height:46.5px;color:#fff;transform:scaleX(0.6204);text-shadow:0.47px 0 0 #fff,-0.47px 0 0 #fff;">P</div>
<div class="t" style="left:392.9px;top:1138.6px;font-size:46.5px;line-height:46.5px;color:#fff;transform:scaleX(0.5904);text-shadow:0.67px 0 0 #fff,-0.67px 0 0 #fff;">T</div>
<div class="t" style="left:411.5px;top:1138.6px;font-size:46.5px;line-height:46.5px;color:#fff;transform:scaleX(0.7578);">I</div>
<div class="t" style="left:423.8px;top:1138.6px;font-size:46.5px;line-height:46.5px;color:#fff;transform:scaleX(0.4952);text-shadow:0.74px 0 0 #fff,-0.74px 0 0 #fff,1.48px 0 0 #fff,-1.48px 0 0 #fff;">O</div>
<div class="t" style="left:444.6px;top:1138.6px;font-size:46.5px;line-height:46.5px;color:#fff;transform:scaleX(0.6563);text-shadow:0.25px 0 0 #fff,-0.25px 0 0 #fff;">N</div>
<div class="t" style="left:138.5px;top:1348.9px;font-size:53.1px;line-height:53.1px;color:#2b0b0c;transform:scaleX(0.4557);text-shadow:0.72px 0 0 #2b0b0c,-0.72px 0 0 #2b0b0c,1.44px 0 0 #2b0b0c,-1.44px 0 0 #2b0b0c,2.17px 0 0 #2b0b0c,-2.17px 0 0 #2b0b0c;">C</div>
<div class="t" style="left:159.5px;top:1348.9px;font-size:53.1px;line-height:53.1px;color:#2b0b0c;transform:scaleX(0.4265);text-shadow:0.87px 0 0 #2b0b0c,-0.87px 0 0 #2b0b0c,1.73px 0 0 #2b0b0c,-1.73px 0 0 #2b0b0c,2.60px 0 0 #2b0b0c,-2.60px 0 0 #2b0b0c;">O</div>
<div class="t" style="left:180.6px;top:1348.9px;font-size:53.1px;line-height:53.1px;color:#2b0b0c;transform:scaleX(0.4985);text-shadow:0.81px 0 0 #2b0b0c,-0.81px 0 0 #2b0b0c,1.63px 0 0 #2b0b0c,-1.63px 0 0 #2b0b0c;">S</div>
<div class="t" style="left:200.8px;top:1348.9px;font-size:53.1px;line-height:53.1px;color:#2b0b0c;transform:scaleX(0.5080);text-shadow:0.76px 0 0 #2b0b0c,-0.76px 0 0 #2b0b0c,1.52px 0 0 #2b0b0c,-1.52px 0 0 #2b0b0c;">T</div>
<div class="t" style="left:371.5px;top:1348.9px;font-size:53.1px;line-height:53.1px;color:#2b0b0c;transform:scaleX(0.5080);text-shadow:0.76px 0 0 #2b0b0c,-0.76px 0 0 #2b0b0c,1.52px 0 0 #2b0b0c,-1.52px 0 0 #2b0b0c;">T</div>
<div class="t" style="left:389.0px;top:1348.9px;font-size:53.1px;line-height:53.1px;color:#2b0b0c;transform:scaleX(0.5481);text-shadow:0.57px 0 0 #2b0b0c,-0.57px 0 0 #2b0b0c,1.13px 0 0 #2b0b0c,-1.13px 0 0 #2b0b0c;">A</div>
<div class="t" style="left:411.3px;top:1348.9px;font-size:53.1px;line-height:53.1px;color:#2b0b0c;transform:scaleX(0.4985);text-shadow:0.81px 0 0 #2b0b0c,-0.81px 0 0 #2b0b0c,1.63px 0 0 #2b0b0c,-1.63px 0 0 #2b0b0c;">S</div>
<div class="t" style="left:430.8px;top:1348.9px;font-size:53.1px;line-height:53.1px;color:#2b0b0c;transform:scaleX(0.5080);text-shadow:0.76px 0 0 #2b0b0c,-0.76px 0 0 #2b0b0c,1.52px 0 0 #2b0b0c,-1.52px 0 0 #2b0b0c;">T</div>
<div class="t" style="left:449.2px;top:1348.9px;font-size:53.1px;line-height:53.1px;color:#2b0b0c;transform:scaleX(0.4760);text-shadow:0.63px 0 0 #2b0b0c,-0.63px 0 0 #2b0b0c,1.25px 0 0 #2b0b0c,-1.25px 0 0 #2b0b0c,1.88px 0 0 #2b0b0c,-1.88px 0 0 #2b0b0c;">E</div>
<div class="t" style="left:638.3px;top:1348.9px;font-size:53.1px;line-height:53.1px;color:#2b0b0c;transform:scaleX(0.4959);text-shadow:0.83px 0 0 #2b0b0c,-0.83px 0 0 #2b0b0c,1.66px 0 0 #2b0b0c,-1.66px 0 0 #2b0b0c;">D</div>
<div class="t" style="left:658.9px;top:1348.9px;font-size:53.1px;line-height:53.1px;color:#2b0b0c;transform:scaleX(0.6312);text-shadow:0.31px 0 0 #2b0b0c,-0.31px 0 0 #2b0b0c;">I</div>
<div class="t" style="left:669.8px;top:1348.9px;font-size:53.1px;line-height:53.1px;color:#2b0b0c;transform:scaleX(0.4760);text-shadow:0.63px 0 0 #2b0b0c,-0.63px 0 0 #2b0b0c,1.25px 0 0 #2b0b0c,-1.25px 0 0 #2b0b0c,1.88px 0 0 #2b0b0c,-1.88px 0 0 #2b0b0c;">E</div>
<div class="t" style="left:689.3px;top:1348.9px;font-size:53.1px;line-height:53.1px;color:#2b0b0c;transform:scaleX(0.5080);text-shadow:0.76px 0 0 #2b0b0c,-0.76px 0 0 #2b0b0c,1.52px 0 0 #2b0b0c,-1.52px 0 0 #2b0b0c;">T</div>
<div class="t" style="left:717.9px;top:1348.9px;font-size:53.1px;line-height:53.1px;color:#2b0b0c;transform:scaleX(0.4557);text-shadow:0.72px 0 0 #2b0b0c,-0.72px 0 0 #2b0b0c,1.44px 0 0 #2b0b0c,-1.44px 0 0 #2b0b0c,2.17px 0 0 #2b0b0c,-2.17px 0 0 #2b0b0c;">C</div>
<div class="t" style="left:737.9px;top:1348.9px;font-size:53.1px;line-height:53.1px;color:#2b0b0c;transform:scaleX(0.5493);text-shadow:0.56px 0 0 #2b0b0c,-0.56px 0 0 #2b0b0c,1.11px 0 0 #2b0b0c,-1.11px 0 0 #2b0b0c;">H</div>
<div class="t" style="left:761.8px;top:1348.9px;font-size:53.1px;line-height:53.1px;color:#2b0b0c;transform:scaleX(0.4265);text-shadow:0.87px 0 0 #2b0b0c,-0.87px 0 0 #2b0b0c,1.73px 0 0 #2b0b0c,-1.73px 0 0 #2b0b0c,2.60px 0 0 #2b0b0c,-2.60px 0 0 #2b0b0c;">O</div>
<div class="t" style="left:781.5px;top:1348.9px;font-size:53.1px;line-height:53.1px;color:#2b0b0c;transform:scaleX(0.6312);text-shadow:0.31px 0 0 #2b0b0c,-0.31px 0 0 #2b0b0c;">I</div>
<div class="t" style="left:792.7px;top:1348.9px;font-size:53.1px;line-height:53.1px;color:#2b0b0c;transform:scaleX(0.4557);text-shadow:0.72px 0 0 #2b0b0c,-0.72px 0 0 #2b0b0c,1.44px 0 0 #2b0b0c,-1.44px 0 0 #2b0b0c,2.17px 0 0 #2b0b0c,-2.17px 0 0 #2b0b0c;">C</div>
<div class="t" style="left:813.3px;top:1348.9px;font-size:53.1px;line-height:53.1px;color:#2b0b0c;transform:scaleX(0.4760);text-shadow:0.63px 0 0 #2b0b0c,-0.63px 0 0 #2b0b0c,1.25px 0 0 #2b0b0c,-1.25px 0 0 #2b0b0c,1.88px 0 0 #2b0b0c,-1.88px 0 0 #2b0b0c;">E</div>
<div class="t" style="left:833.1px;top:1348.9px;font-size:53.1px;line-height:53.1px;color:#2b0b0c;transform:scaleX(0.4985);text-shadow:0.81px 0 0 #2b0b0c,-0.81px 0 0 #2b0b0c,1.63px 0 0 #2b0b0c,-1.63px 0 0 #2b0b0c;">S</div>
<div class="t" style="left:122.3px;top:1405.8px;font-size:18.3px;line-height:18.3px;color:#1c0b09;transform:scaleX(1.1163);font-weight:400;-webkit-text-stroke:1.0px #1c0b09;">Rising cost of</div>
<div class="t" style="left:111.5px;top:1428.1px;font-size:18.3px;line-height:18.3px;color:#1c0b09;transform:scaleX(1.1588);font-weight:400;-webkit-text-stroke:1.0px #1c0b09;">protein sources</div>
<div class="t" style="left:360.2px;top:1405.8px;font-size:18.3px;line-height:18.3px;color:#1c0b09;transform:scaleX(1.1250);font-weight:400;-webkit-text-stroke:1.0px #1c0b09;">People prefer</div>
<div class="t" style="left:335.5px;top:1428.1px;font-size:18.3px;line-height:18.3px;color:#1c0b09;transform:scaleX(1.2101);font-weight:400;-webkit-text-stroke:1.0px #1c0b09;">carb-heavy meals</div>
<div class="t" style="left:607.2px;top:1405.8px;font-size:18.3px;line-height:18.3px;color:#1c0b09;transform:scaleX(1.1510);font-weight:400;-webkit-text-stroke:1.0px #1c0b09;">Lack of variety &amp; accessibility</div>
<div class="t" style="left:593.3px;top:1428.1px;font-size:18.3px;line-height:18.3px;color:#1c0b09;transform:scaleX(1.1855);font-weight:400;-webkit-text-stroke:1.0px #1c0b09;">in cost-effective protein choices</div>
<div class="t" style="left:133.2px;top:1823.8px;font-size:50.6px;line-height:50.6px;color:#f0460f;transform:scaleX(0.5355);text-shadow:0.75px 0 0 #f0460f,-0.75px 0 0 #f0460f,1.51px 0 0 #f0460f,-1.51px 0 0 #f0460f;">A</div>
<div class="t" style="left:155.2px;top:1823.8px;font-size:50.6px;line-height:50.6px;color:#f0460f;transform:scaleX(0.5376);text-shadow:0.76px 0 0 #f0460f,-0.76px 0 0 #f0460f,1.52px 0 0 #f0460f,-1.52px 0 0 #f0460f;">W</div>
<div class="t" style="left:183.4px;top:1823.8px;font-size:50.6px;line-height:50.6px;color:#f0460f;transform:scaleX(0.5355);text-shadow:0.75px 0 0 #f0460f,-0.75px 0 0 #f0460f,1.51px 0 0 #f0460f,-1.51px 0 0 #f0460f;">A</div>
<div class="t" style="left:205.5px;top:1823.8px;font-size:50.6px;line-height:50.6px;color:#f0460f;transform:scaleX(0.4744);text-shadow:0.73px 0 0 #f0460f,-0.73px 0 0 #f0460f,1.45px 0 0 #f0460f,-1.45px 0 0 #f0460f,2.18px 0 0 #f0460f,-2.18px 0 0 #f0460f;">R</div>
<div class="t" style="left:226.9px;top:1823.8px;font-size:50.6px;line-height:50.6px;color:#f0460f;transform:scaleX(0.4603);text-shadow:0.78px 0 0 #f0460f,-0.78px 0 0 #f0460f,1.56px 0 0 #f0460f,-1.56px 0 0 #f0460f,2.33px 0 0 #f0460f,-2.33px 0 0 #f0460f;">E</div>
<div class="t" style="left:245.3px;top:1823.8px;font-size:50.6px;line-height:50.6px;color:#f0460f;transform:scaleX(0.5524);text-shadow:0.67px 0 0 #f0460f,-0.67px 0 0 #f0460f,1.33px 0 0 #f0460f,-1.33px 0 0 #f0460f;">N</div>
<div class="t" style="left:268.4px;top:1823.8px;font-size:50.6px;line-height:50.6px;color:#f0460f;transform:scaleX(0.4603);text-shadow:0.78px 0 0 #f0460f,-0.78px 0 0 #f0460f,1.56px 0 0 #f0460f,-1.56px 0 0 #f0460f,2.33px 0 0 #f0460f,-2.33px 0 0 #f0460f;">E</div>
<div class="t" style="left:287.6px;top:1823.8px;font-size:50.6px;line-height:50.6px;color:#f0460f;transform:scaleX(0.4841);text-shadow:0.68px 0 0 #f0460f,-0.68px 0 0 #f0460f,1.37px 0 0 #f0460f,-1.37px 0 0 #f0460f,2.05px 0 0 #f0460f,-2.05px 0 0 #f0460f;">S</div>
<div class="t" style="left:307.5px;top:1823.8px;font-size:50.6px;line-height:50.6px;color:#f0460f;transform:scaleX(0.4841);text-shadow:0.68px 0 0 #f0460f,-0.68px 0 0 #f0460f,1.37px 0 0 #f0460f,-1.37px 0 0 #f0460f,2.05px 0 0 #f0460f,-2.05px 0 0 #f0460f;">S</div>
<div class="t" style="left:336.7px;top:1823.8px;font-size:50.6px;line-height:50.6px;color:#f0460f;transform:scaleX(0.4210);text-shadow:0.74px 0 0 #f0460f,-0.74px 0 0 #f0460f,1.47px 0 0 #f0460f,-1.47px 0 0 #f0460f,2.21px 0 0 #f0460f,-2.21px 0 0 #f0460f,2.95px 0 0 #f0460f,-2.95px 0 0 #f0460f;">G</div>
<div class="t" style="left:355.9px;top:1823.8px;font-size:50.6px;line-height:50.6px;color:#f0460f;transform:scaleX(0.5355);text-shadow:0.75px 0 0 #f0460f,-0.75px 0 0 #f0460f,1.51px 0 0 #f0460f,-1.51px 0 0 #f0460f;">A</div>
<div class="t" style="left:377.8px;top:1823.8px;font-size:50.6px;line-height:50.6px;color:#f0460f;transform:scaleX(0.5183);text-shadow:0.83px 0 0 #f0460f,-0.83px 0 0 #f0460f,1.66px 0 0 #f0460f,-1.66px 0 0 #f0460f;">P</div>
<div class="t" style="left:576.7px;top:1823.8px;font-size:50.6px;line-height:50.6px;color:#f3d825;transform:scaleX(0.4144);text-shadow:0.77px 0 0 #f3d825,-0.77px 0 0 #f3d825,1.53px 0 0 #f3d825,-1.53px 0 0 #f3d825,2.30px 0 0 #f3d825,-2.30px 0 0 #f3d825,3.06px 0 0 #f3d825,-3.06px 0 0 #f3d825;">Q</div>
<div class="t" style="left:597.6px;top:1823.8px;font-size:50.6px;line-height:50.6px;color:#f3d825;transform:scaleX(0.4667);text-shadow:0.76px 0 0 #f3d825,-0.76px 0 0 #f3d825,1.51px 0 0 #f3d825,-1.51px 0 0 #f3d825,2.27px 0 0 #f3d825,-2.27px 0 0 #f3d825;">U</div>
<div class="t" style="left:617.9px;top:1823.8px;font-size:50.6px;line-height:50.6px;color:#f3d825;transform:scaleX(0.5355);text-shadow:0.75px 0 0 #f3d825,-0.75px 0 0 #f3d825,1.51px 0 0 #f3d825,-1.51px 0 0 #f3d825;">A</div>
<div class="t" style="left:639.8px;top:1823.8px;font-size:50.6px;line-height:50.6px;color:#f3d825;transform:scaleX(0.5524);text-shadow:0.67px 0 0 #f3d825,-0.67px 0 0 #f3d825,1.33px 0 0 #f3d825,-1.33px 0 0 #f3d825;">N</div>
<div class="t" style="left:663.2px;top:1823.8px;font-size:50.6px;line-height:50.6px;color:#f3d825;transform:scaleX(0.4932);text-shadow:0.65px 0 0 #f3d825,-0.65px 0 0 #f3d825,1.29px 0 0 #f3d825,-1.29px 0 0 #f3d825,1.94px 0 0 #f3d825,-1.94px 0 0 #f3d825;">T</div>
<div class="t" style="left:681.5px;top:1823.8px;font-size:50.6px;line-height:50.6px;color:#f3d825;transform:scaleX(0.5316);text-shadow:0.52px 0 0 #f3d825,-0.52px 0 0 #f3d825,1.03px 0 0 #f3d825,-1.03px 0 0 #f3d825;">I</div>
<div class="t" style="left:692.1px;top:1823.8px;font-size:50.6px;line-height:50.6px;color:#f3d825;transform:scaleX(0.4932);text-shadow:0.65px 0 0 #f3d825,-0.65px 0 0 #f3d825,1.29px 0 0 #f3d825,-1.29px 0 0 #f3d825,1.94px 0 0 #f3d825,-1.94px 0 0 #f3d825;">T</div>
<div class="t" style="left:710.6px;top:1823.8px;font-size:50.6px;line-height:50.6px;color:#f3d825;transform:scaleX(0.5322);text-shadow:0.77px 0 0 #f3d825,-0.77px 0 0 #f3d825,1.53px 0 0 #f3d825,-1.53px 0 0 #f3d825;">Y</div>
<div class="t" style="left:740.9px;top:1823.8px;font-size:50.6px;line-height:50.6px;color:#f3d825;transform:scaleX(0.5270);text-shadow:0.79px 0 0 #f3d825,-0.79px 0 0 #f3d825,1.59px 0 0 #f3d825,-1.59px 0 0 #f3d825;">V</div>
<div class="t" style="left:762.4px;top:1823.8px;font-size:50.6px;line-height:50.6px;color:#f3d825;transform:scaleX(0.4841);text-shadow:0.68px 0 0 #f3d825,-0.68px 0 0 #f3d825,1.37px 0 0 #f3d825,-1.37px 0 0 #f3d825,2.05px 0 0 #f3d825,-2.05px 0 0 #f3d825;">S</div>
<div class="t" style="left:792.5px;top:1823.8px;font-size:50.6px;line-height:50.6px;color:#f3d825;transform:scaleX(0.4144);text-shadow:0.77px 0 0 #f3d825,-0.77px 0 0 #f3d825,1.53px 0 0 #f3d825,-1.53px 0 0 #f3d825,2.30px 0 0 #f3d825,-2.30px 0 0 #f3d825,3.06px 0 0 #f3d825,-3.06px 0 0 #f3d825;">Q</div>
<div class="t" style="left:813.4px;top:1823.8px;font-size:50.6px;line-height:50.6px;color:#f3d825;transform:scaleX(0.4667);text-shadow:0.76px 0 0 #f3d825,-0.76px 0 0 #f3d825,1.51px 0 0 #f3d825,-1.51px 0 0 #f3d825,2.27px 0 0 #f3d825,-2.27px 0 0 #f3d825;">U</div>
<div class="t" style="left:833.7px;top:1823.8px;font-size:50.6px;line-height:50.6px;color:#f3d825;transform:scaleX(0.5355);text-shadow:0.75px 0 0 #f3d825,-0.75px 0 0 #f3d825,1.51px 0 0 #f3d825,-1.51px 0 0 #f3d825;">A</div>
<div class="t" style="left:856.1px;top:1823.8px;font-size:50.6px;line-height:50.6px;color:#f3d825;transform:scaleX(0.4813);text-shadow:0.68px 0 0 #f3d825,-0.68px 0 0 #f3d825,1.37px 0 0 #f3d825,-1.37px 0 0 #f3d825,2.05px 0 0 #f3d825,-2.05px 0 0 #f3d825;">L</div>
<div class="t" style="left:873.7px;top:1823.8px;font-size:50.6px;line-height:50.6px;color:#f3d825;transform:scaleX(0.5316);text-shadow:0.52px 0 0 #f3d825,-0.52px 0 0 #f3d825,1.03px 0 0 #f3d825,-1.03px 0 0 #f3d825;">I</div>
<div class="t" style="left:884.2px;top:1823.8px;font-size:50.6px;line-height:50.6px;color:#f3d825;transform:scaleX(0.4932);text-shadow:0.65px 0 0 #f3d825,-0.65px 0 0 #f3d825,1.29px 0 0 #f3d825,-1.29px 0 0 #f3d825,1.94px 0 0 #f3d825,-1.94px 0 0 #f3d825;">T</div>
<div class="t" style="left:902.7px;top:1823.8px;font-size:50.6px;line-height:50.6px;color:#f3d825;transform:scaleX(0.5322);text-shadow:0.77px 0 0 #f3d825,-0.77px 0 0 #f3d825,1.53px 0 0 #f3d825,-1.53px 0 0 #f3d825;">Y</div>
<div class="t" style="left:93.9px;top:1879.7px;font-size:18.8px;line-height:18.8px;color:#1c0b09;transform:scaleX(1.1255);font-weight:400;-webkit-text-stroke:1.0px #1c0b09;">Misconceptions persist — many believe</div>
<div class="t" style="left:79.6px;top:1902.1px;font-size:18.8px;line-height:18.8px;color:#1c0b09;transform:scaleX(1.1309);font-weight:400;-webkit-text-stroke:1.0px #1c0b09;">leafy vegetables alone meet protein needs</div>
<div class="t" style="left:608.2px;top:1879.7px;font-size:18.8px;line-height:18.8px;color:#fff;transform:scaleX(1.1166);font-weight:400;-webkit-text-stroke:1.15px #fff;">Most people chase portion size,</div>
<div class="t" style="left:668.6px;top:1902.1px;font-size:18.8px;line-height:18.8px;color:#fff;transform:scaleX(1.1649);font-weight:400;-webkit-text-stroke:1.15px #fff;">not protein quality</div>
<div class="t" style="left:81.8px;top:271.5px;font-size:18.7px;line-height:18.7px;color:#1d0a08;transform:scaleX(1.0221);font-weight:400;-webkit-text-stroke:1.0px #1d0a08;">Our independent survey shows a severe</div>
<div class="t" style="left:81.4px;top:292.1px;font-size:18.7px;line-height:18.7px;color:#1d0a08;transform:scaleX(1.0425);font-weight:400;-webkit-text-stroke:1.0px #1d0a08;">lack of protein awareness in urban India.</div>
<div class="t" style="left:227.9px;top:2017.1px;font-size:19.3px;line-height:19.3px;color:#fff;transform:scaleX(1.0760);font-weight:400;-webkit-text-stroke:1.15px #fff;">According to ICMR: 0.66–0.83 g protein per kg of body weight, every day.</div>
<div class="t" style="left:226.3px;top:2043.6px;font-size:19.3px;line-height:19.3px;color:#fff;transform:scaleX(1.0863);font-weight:400;-webkit-text-stroke:1.15px #fff;">Example: If you weigh 60 kg, you need around 40–50 g of protein daily.</div>
<svg width="1024" height="2124" viewBox="0 0 1024 2124" style="left:0;top:0;">
<circle cx="344.6" cy="461.4" r="12.7" fill="#300b0a"/>
<path fill="#300b0a" d="M324.1,499.0V489.4a11,11 0 0 1 11,-11H354.1a11,11 0 0 1 11,11V499.0a2,2 0 0 1 -2,2H326.1a2,2 0 0 1 -2,-2z"/>
<circle cx="344.6" cy="521.4" r="12.7" fill="#300b0a"/>
<path fill="#300b0a" d="M324.1,559.0V549.4a11,11 0 0 1 11,-11H354.1a11,11 0 0 1 11,11V559.0a2,2 0 0 1 -2,2H326.1a2,2 0 0 1 -2,-2z"/>
<circle cx="400.8" cy="461.4" r="12.7" fill="#300b0a"/>
<path fill="#300b0a" d="M380.3,499.0V489.4a11,11 0 0 1 11,-11H410.3a11,11 0 0 1 11,11V499.0a2,2 0 0 1 -2,2H382.3a2,2 0 0 1 -2,-2z"/>
<circle cx="400.8" cy="521.4" r="12.7" fill="#fdd01e"/>
<path fill="#fdd01e" d="M380.3,559.0V549.4a11,11 0 0 1 11,-11H410.3a11,11 0 0 1 11,11V559.0a2,2 0 0 1 -2,2H382.3a2,2 0 0 1 -2,-2z"/>
<circle cx="457.0" cy="461.4" r="12.7" fill="#300b0a"/>
<path fill="#300b0a" d="M436.5,499.0V489.4a11,11 0 0 1 11,-11H466.5a11,11 0 0 1 11,11V499.0a2,2 0 0 1 -2,2H438.5a2,2 0 0 1 -2,-2z"/>
<circle cx="457.0" cy="521.4" r="12.7" fill="#fdd01e"/>
<path fill="#fdd01e" d="M436.5,559.0V549.4a11,11 0 0 1 11,-11H466.5a11,11 0 0 1 11,11V559.0a2,2 0 0 1 -2,2H438.5a2,2 0 0 1 -2,-2z"/>
<circle cx="513.0" cy="461.4" r="12.7" fill="#300b0a"/>
<path fill="#300b0a" d="M492.5,499.0V489.4a11,11 0 0 1 11,-11H522.5a11,11 0 0 1 11,11V499.0a2,2 0 0 1 -2,2H494.5a2,2 0 0 1 -2,-2z"/>
<circle cx="513.0" cy="521.4" r="12.7" fill="#fdd01e"/>
<path fill="#fdd01e" d="M492.5,559.0V549.4a11,11 0 0 1 11,-11H522.5a11,11 0 0 1 11,11V559.0a2,2 0 0 1 -2,2H494.5a2,2 0 0 1 -2,-2z"/>
<circle cx="569.0" cy="461.4" r="12.7" fill="#300b0a"/>
<path fill="#300b0a" d="M548.5,499.0V489.4a11,11 0 0 1 11,-11H578.5a11,11 0 0 1 11,11V499.0a2,2 0 0 1 -2,2H550.5a2,2 0 0 1 -2,-2z"/>
<circle cx="569.0" cy="521.4" r="12.7" fill="#fdd01e"/>
<path fill="#fdd01e" d="M548.5,559.0V549.4a11,11 0 0 1 11,-11H578.5a11,11 0 0 1 11,11V559.0a2,2 0 0 1 -2,2H550.5a2,2 0 0 1 -2,-2z"/>
<path fill="#1ea54b" d="M749.0999999999999,227.9a3.2,3.4 0 0 1 6.4,0z"/>
<path fill="#1ea54b" d="M746.6999999999999,230.5q0,-1 1,-1h9.2q1,0 1,1l-0.9,15.5q-0.2,2.5 -2.9,4.6v11.3a1.8,1.8 0 0 1 -3.6,0v-11.3q-2.7,-2.1 -2.9,-4.6z"/>
<path fill="#1ea54b" d="M765.6999999999999,227.9a3.2,3.4 0 0 1 6.4,0z"/>
<path fill="#1ea54b" d="M763.3,230.5q0,-1 1,-1h9.2q1,0 1,1l-0.9,15.5q-0.2,2.5 -2.9,4.6v11.3a1.8,1.8 0 0 1 -3.6,0v-11.3q-2.7,-2.1 -2.9,-4.6z"/>
<path fill="#1ea54b" d="M782.3,227.9a3.2,3.4 0 0 1 6.4,0z"/>
<path fill="#1ea54b" d="M779.9,230.5q0,-1 1,-1h9.2q1,0 1,1l-0.9,15.5q-0.2,2.5 -2.9,4.6v11.3a1.8,1.8 0 0 1 -3.6,0v-11.3q-2.7,-2.1 -2.9,-4.6z"/>
<circle cx="802.0" cy="225.3" r="3.3" fill="#fff"/>
<path fill="#fff" d="M798.8,230.5q0.2,-1 1.2,-1h4q1,0 1.2,1l3.1,19.6q0.1,0.7 -0.6,0.7h-3.9v11.3a1.8,1.8 0 0 1 -3.6,0v-11.3h-3.9q-0.7,0 -0.6,-0.7z"/>
<circle cx="818.6" cy="225.3" r="3.3" fill="#fff"/>
<path fill="#fff" d="M815.4,230.5q0.2,-1 1.2,-1h4q1,0 1.2,1l3.1,19.6q0.1,0.7 -0.6,0.7h-3.9v11.3a1.8,1.8 0 0 1 -3.6,0v-11.3h-3.9q-0.7,0 -0.6,-0.7z"/>
<path fill="#1ea54b" d="M749.0999999999999,273.40000000000003a3.2,3.4 0 0 1 6.4,0z"/>
<path fill="#1ea54b" d="M746.6999999999999,276.0q0,-1 1,-1h9.2q1,0 1,1l-0.9,15.5q-0.2,2.5 -2.9,4.6v11.3a1.8,1.8 0 0 1 -3.6,0v-11.3q-2.7,-2.1 -2.9,-4.6z"/>
<path fill="#1ea54b" d="M765.6999999999999,273.40000000000003a3.2,3.4 0 0 1 6.4,0z"/>
<path fill="#1ea54b" d="M763.3,276.0q0,-1 1,-1h9.2q1,0 1,1l-0.9,15.5q-0.2,2.5 -2.9,4.6v11.3a1.8,1.8 0 0 1 -3.6,0v-11.3q-2.7,-2.1 -2.9,-4.6z"/>
<path fill="#1ea54b" d="M782.3,273.40000000000003a3.2,3.4 0 0 1 6.4,0z"/>
<path fill="#1ea54b" d="M779.9,276.0q0,-1 1,-1h9.2q1,0 1,1l-0.9,15.5q-0.2,2.5 -2.9,4.6v11.3a1.8,1.8 0 0 1 -3.6,0v-11.3q-2.7,-2.1 -2.9,-4.6z"/>
<circle cx="802.0" cy="270.8" r="3.3" fill="#fff"/>
<path fill="#fff" d="M798.8,276.0q0.2,-1 1.2,-1h4q1,0 1.2,1l3.1,19.6q0.1,0.7 -0.6,0.7h-3.9v11.3a1.8,1.8 0 0 1 -3.6,0v-11.3h-3.9q-0.7,0 -0.6,-0.7z"/>
<circle cx="818.6" cy="270.8" r="3.3" fill="#fff"/>
<path fill="#fff" d="M815.4,276.0q0.2,-1 1.2,-1h4q1,0 1.2,1l3.1,19.6q0.1,0.7 -0.6,0.7h-3.9v11.3a1.8,1.8 0 0 1 -3.6,0v-11.3h-3.9q-0.7,0 -0.6,-0.7z"/>
<path fill="none" stroke="#f4511c" stroke-width="2.6" stroke-linejoin="miter" d="M789.5,114H841.2V139.6H816.1V151.5L804.5,139.6H789.5z"/>
<circle cx="803" cy="127.4" r="1.9" fill="#f9a58c"/>
<circle cx="814.6" cy="127.4" r="1.9" fill="#f9a58c"/>
<circle cx="826.4" cy="127.4" r="1.9" fill="#f9a58c"/>
<path fill="#f4511c" d="M802.7,198.4V168.5q0,-3.6 4.6,-4.2V160.3a1.2,1.2 0 0 1 2.4,0V164.3q4.8,0.6 4.8,4.2V198.4z"/>
<rect x="805.6" y="170.3" width="6.2" height="2.9" rx="0.8" fill="#8e1a10"/>
<rect x="805.6" y="176.8" width="6.2" height="2.9" rx="0.8" fill="#8e1a10"/>
<rect x="805.6" y="182.7" width="6.2" height="2.9" rx="0.8" fill="#8e1a10"/>
<rect x="805.6" y="188.7" width="6.2" height="2.9" rx="0.8" fill="#8e1a10"/>
<path fill="#f4511c" d="M818,198.4V156q0,-4.2 4.2,-4.2H836.5q5.7,0 5.7,6.2V160L832.5,164.8Q830,166 830,169V198.4z"/>
<rect x="820.9" y="158.6" width="6.3" height="2.8" rx="0.8" fill="#8e1a10"/>
<rect x="820.9" y="164.5" width="6.3" height="2.8" rx="0.8" fill="#8e1a10"/>
<rect x="820.9" y="170.3" width="6.3" height="2.8" rx="0.8" fill="#8e1a10"/>
<rect x="820.9" y="176.3" width="6.3" height="2.8" rx="0.8" fill="#8e1a10"/>
<rect x="820.9" y="182.3" width="6.3" height="2.8" rx="0.8" fill="#8e1a10"/>
<rect x="820.9" y="188.3" width="6.3" height="2.8" rx="0.8" fill="#8e1a10"/>
<path fill="#f4511c" d="M832.7,198.4V169.6q0,-1.6 1.4,-2.2L849.3,161.6V198.4z"/>
<rect x="840.2" y="171.3" width="9.2" height="2.7" fill="#8e1a10"/>
<rect x="840.2" y="177.4" width="9.2" height="2.7" fill="#8e1a10"/>
<rect x="840.2" y="183.5" width="9.2" height="2.7" fill="#8e1a10"/>
<rect x="840.2" y="189.3" width="9.2" height="2.7" fill="#8e1a10"/>
<path d="M141.30,768.10A53.1,53.1 0 0 1 194.37,823.05" fill="none" stroke="#d6d6d6" stroke-width="9.6"/>
<path d="M194.40,821.66A53.1,53.1 0 1 1 139.91,768.12" fill="none" stroke="#12a84a" stroke-width="9.6" stroke-linecap="round"/>
<path d="M130.2,811.3A12.4,12.4 0 1 1 147.6,822.8Q137.3,826.2 137.3,833" fill="none" stroke="#300b0a" stroke-width="10.6"/>
<circle cx="137.2" cy="844.5" r="6.6" fill="#300b0a"/>
<circle cx="388.4" cy="821.4" r="53.0" fill="none" stroke="#fdd01a" stroke-width="11.0"/>
<path d="M391.17,768.47A53.0,53.0 0 0 1 430.16,788.77" fill="none" stroke="#f8eedc" stroke-width="11.0"/>
<circle cx="388.1" cy="821.4" r="33.2" fill="none" stroke="#2a0a0b" stroke-width="8.2"/>
<path d="M388.1,801.5V821.6L397.6,826.6" fill="none" stroke="#2a0a0b" stroke-width="7.4" stroke-linecap="round" stroke-linejoin="round"/>
<path d="M633.80,768.30A52.9,52.9 0 0 1 633.80,874.10" fill="none" stroke="#d6d6d6" stroke-width="9.8"/>
<path d="M634.72,874.09A52.9,52.9 0 1 1 634.72,768.31" fill="none" stroke="#12a84a" stroke-width="9.8" stroke-linecap="round"/>
<circle cx="634.2" cy="822.6" r="32.7" fill="none" stroke="#1d0a0a" stroke-width="5.4"/>
<path d="M616.2,812.6Q626.5,813 629.2,805.6 M650.4,812.6Q640.5,813 637.9,805.6" fill="none" stroke="#1d0a0a" stroke-width="2.8" stroke-linecap="round"/>
<path d="M616.4,818.6A6.4,6.6 0 0 0 629.2,818.6 M637.6,818.6A6.4,6.6 0 0 0 650.4,818.6" fill="none" stroke="#1d0a0a" stroke-width="2.8" stroke-linecap="round"/>
<path d="M623,840.9Q623.5,834 629,831.5Q634.3,829.8 639.5,831.5Q645,834 645.6,840.9z" fill="#300b0a"/>
<path d="M877.60,767.80A53.3,53.3 0 0 1 926.29,842.78" fill="none" stroke="#fdf8ee" stroke-width="10.3"/>
<path d="M926.84,841.50A53.3,53.3 0 1 1 876.20,767.82" fill="none" stroke="#f4511c" stroke-width="10.3" stroke-linecap="round"/>
<path d="M861,802H892.5M861,813.6H892.5M861,824.7H871.5A11.3,11.35 0 0 0 871.5,802" fill="none" stroke="#1d0a0a" stroke-width="6.8" stroke-linejoin="miter"/>
<path d="M866.3,826.5L876.6,825.4L889.9,843L881.4,844.2z" fill="#1d0a0a"/>
<rect x="131.7" y="1315" width="19.7" height="23.7" fill="#ff3f05" stroke="#d8360a" stroke-width="0.8"/>
<rect x="156.6" y="1292.2" width="19.3" height="46.5" fill="#ff3f05" stroke="#d8360a" stroke-width="0.8"/>
<rect x="181.5" y="1296.2" width="19.4" height="42.5" fill="#ff3f05" stroke="#d8360a" stroke-width="0.8"/>
<rect x="206.1" y="1277" width="19.7" height="61.7" fill="#ff3f05" stroke="#d8360a" stroke-width="0.8"/>
<polyline fill="none" stroke="#2b8558" stroke-width="1.5" points="133.8,1298.3 163,1269.2 191.7,1275.4 220.8,1252.3"/>
<circle cx="133.8" cy="1298.3" r="4.4" fill="#1f9d57"/>
<circle cx="163" cy="1269.2" r="4.4" fill="#1f9d57"/>
<circle cx="191.7" cy="1275.4" r="4.4" fill="#1f9d57"/>
<circle cx="220.8" cy="1252.3" r="4.4" fill="#1f9d57"/>
<circle cx="419.2" cy="1292.1" r="44" fill="none" stroke="#1f9d50" stroke-width="4.5"/>
<path d="M393.4,1283.3Q406.5,1284.5 411,1274.6M445.3,1281.9Q432.5,1283 427.7,1273.1" fill="none" stroke="#1c7a45" stroke-width="2.3" stroke-linecap="round"/>
<circle cx="405.7" cy="1292.2" r="3.3" fill="#1f9d50"/><circle cx="432.1" cy="1291" r="3.3" fill="#1f9d50"/>
<path d="M404.6,1307.8Q410.2,1311 409.8,1318.6M409.6,1312.4Q422.5,1305 435.2,1311.4M439.6,1305.4Q434.2,1309.5 435.1,1316.8" fill="none" stroke="#1c7a45" stroke-width="2.3" stroke-linecap="round"/>
<path d="M699.7,1276.7A21.05,17.1 0 0 1 741.8,1276.7z" fill="#f93d0b"/>
<rect x="739.4" y="1239.1" width="11.3" height="3.3" rx="1.2" fill="#c8321a"/>
<path d="M734.3,1249.2q0,-1.2 1.2,-1.2h19.2q1.2,0 1.2,1.2V1257.5Q755.9,1262.5 745.6,1271.5Q734.3,1262.5 734.3,1257.5z" fill="#f93d0b"/>
<path d="M765.7,1276.7L781.8,1260.3q0.8,-0.8 2,-0.8H788.6q1.2,0 1.2,1.2V1276.7z" fill="#f93d0b"/>
<rect x="690.8" y="1281.4" width="109.8" height="10.2" rx="2.2" fill="#fccb17"/>
<path d="M697.1,1296.9H795.8L790.8,1330.5Q789.8,1336.6 783.8,1336.6H709.3Q703.3,1336.6 702.2,1330.5z" fill="#fccb17"/>
<rect x="723.3" y="1304.3" width="9.4" height="25.4" rx="4.7" fill="#fffdf0"/>
<rect x="741.0" y="1304.3" width="9.4" height="25.4" rx="4.7" fill="#fffdf0"/>
<rect x="759.1" y="1304.3" width="9.4" height="25.4" rx="4.7" fill="#fffdf0"/>
<line x1="746.6" y1="1283.6" x2="774.2" y2="1255.4" stroke="#fff" stroke-width="13.5" stroke-linecap="round"/>
<path d="M739.6,1283L746,1276.5L758,1283L749.5,1291.8H744z" fill="#fff"/>
<line x1="746.6" y1="1283.6" x2="774.2" y2="1255.4" stroke="#fccb17" stroke-width="7.2" stroke-linecap="round"/>
<path d="M182.1,1693.4H355.5L353.6,1719.1H184.6z" fill="#2b0b0c" stroke="#2b0b0c" stroke-width="1.5" stroke-linejoin="round"/>
<path d="M189.1,1731.8H348.7C340.7,1750 324,1766 309.1,1772.9V1788.5H228.6V1772.9C212,1766 197,1750 189.1,1731.8z" fill="#2b0b0c" stroke="#2b0b0c" stroke-width="1.2" stroke-linejoin="round"/>
<clipPath id="rb"><rect x="190" y="1640" width="110" height="44.6"/></clipPath>
<g clip-path="url(#rb)"><circle cx="245.2" cy="1692.6" r="33" fill="none" stroke="#2b0b0c" stroke-width="13.8"/><circle cx="245.2" cy="1692.6" r="18.7" fill="#2b0b0c"/></g>
<path d="M212.5,1623.6C228,1624 243,1632 251.3,1643C236,1643.5 222,1648.5 211.6,1657C209.5,1646 209.2,1636 210.3,1626Q210.6,1623.6 212.5,1623.6z" fill="#2b0b0c"/>
<path d="M268.8,1616.2C281,1622 292.5,1638 292.3,1652C292.2,1659 291,1665 288.8,1669.6C283,1659 272,1649 258.9,1644C258.8,1634 262,1622 268.8,1616.2z" fill="#2b0b0c"/>
<path d="M299,1641.5C305,1636 315,1632 324,1630.8Q327.2,1630.6 327,1633.5C326.6,1640 325.5,1646 324.3,1651.8C315,1652.5 306.5,1655.5 300.6,1660C299.3,1654 298.8,1647 299,1641.5z" fill="#2b0b0c"/>
<path d="M295.4,1684.6C298,1675 308,1664.5 322,1661.2C327,1660 332,1659.6 336,1659.8Q338.6,1660 337.6,1662.2C335,1670 330.5,1678.5 325.3,1684.6z" fill="#2b0b0c"/>
<g transform="translate(615,1595) scale(0.244140625)"><path d="M580,297C545,272 440,258 382,308C328,352 322,430 342,525C368,645 445,768 560,768C595,768 600,760 625,766C700,775 770,720 800,655C860,560 890,420 850,340C812,268 690,262 580,297z" fill="#fff"/><path d="M413,58C470,40 560,80 588,160C580,185 572,205 562,222C500,220 450,190 428,140C414,108 410,80 413,58z" fill="#fff"/><path d="M583,262V195Q590,135 680,95" fill="none" stroke="#fff" stroke-width="32" stroke-linecap="round"/><line x1="84" y1="346" x2="122" y2="382" stroke="#00a846" stroke-width="86" stroke-linecap="round"/><line x1="84" y1="346" x2="122" y2="382" stroke="#fff" stroke-width="64" stroke-linecap="round"/><line x1="228" y1="262" x2="238" y2="305" stroke="#00a846" stroke-width="92" stroke-linecap="round"/><line x1="228" y1="262" x2="238" y2="305" stroke="#fff" stroke-width="70" stroke-linecap="round"/><line x1="101" y1="222" x2="160" y2="322" stroke="#00a846" stroke-width="86" stroke-linecap="round"/><line x1="101" y1="222" x2="160" y2="322" stroke="#fff" stroke-width="64" stroke-linecap="round"/><path d="M128,402C165,345 275,300 335,338C405,450 475,640 492,785C494,808 472,812 452,800C330,720 185,570 128,455C118,435 118,418 128,402z" fill="#fff" stroke="#00a846" stroke-width="13" stroke-linejoin="round"/><path d="M150,492L205,468M295,490L365,452M335,550L395,515M305,665L365,632M350,717L405,686" fill="none" stroke="#00a846" stroke-width="13" stroke-linecap="round"/><rect x="858" y="368" width="112" height="100" rx="28" fill="#fff" stroke="#00a846" stroke-width="13"/><path d="M596,468H968V635Q968,662 940,662H596Q580,662 580,646V484Q580,468 596,468z" fill="#fff" stroke="#00a846" stroke-width="13"/><rect x="870" y="440" width="98" height="60" fill="#fff"/><path d="M862,465Q940,470 965,440" fill="none" stroke="#00a846" stroke-width="9"/><path d="M660,482V552M742,482V552M825,482V552M908,482V552" fill="none" stroke="#00a846" stroke-width="13" stroke-linecap="round"/></g>
<path d="M45,18.2Q57,15.4 69,18.2L84,30L91,44.5L89.5,64L80,79Q70,86.3 57.5,87Q45,86.3 35.5,79L26,64L24.5,44.5L31,30z" fill="#fdfeff" stroke="#122c55" stroke-width="1.4" stroke-linejoin="round"/>
<path d="M22.2,46.8L29,40.2L87,37.8L95.6,47.2L88.5,50.4L95.2,65.2L84,62.4L31,66.2L21.6,65.2L29.5,55.4z" fill="#fdfeff" stroke="#122c55" stroke-width="1.2" stroke-linejoin="round"/>
<circle cx="57.5" cy="53" r="28.8" fill="#1f63b3"/>
<clipPath id="cd0"><circle cx="57.5" cy="53" r="28.8"/></clipPath>
<clipPath id="cd"><circle cx="57.5" cy="53" r="28.8"/></clipPath>
<g clip-path="url(#cd)"><path d="M40,76Q52,70 60,70Q66,64 72,66.5Q78,69 77,75L70,84H45z" fill="#1a6a6a"/><path d="M56,72Q63,65.5 70,66.5Q78,68.5 76.5,74Q66,79 56,72z" fill="#f4c22e"/><path d="M42,77.5Q50,74 57,76.5Q66,80 78,73L76,82H48z" fill="#7fb843"/><path d="M41,80Q50,77.5 58,81Q66,84 78,78V90H40z" fill="#fdfeff"/></g>
<text x="56.6" y="51.6" text-anchor="middle" font-family="Liberation Sans,sans-serif" font-weight="700" font-style="italic" font-size="17" textLength="58" lengthAdjust="spacingAndGlyphs" fill="#fdfeff" stroke="#122c55" stroke-width="2.6" paint-order="stroke" stroke-linejoin="round">Country</text>
<text x="56.6" y="64.8" text-anchor="middle" font-family="Liberation Sans,sans-serif" font-weight="700" font-style="italic" font-size="15" textLength="47" lengthAdjust="spacingAndGlyphs" fill="#fdfeff" stroke="#122c55" stroke-width="2.4" paint-order="stroke" stroke-linejoin="round">Delight</text>
<path id="lb" d="M17.6,83.4A50.5,50.5 0 0 0 97.4,83.4" fill="none"/>
<text font-family="Liberation Sans,sans-serif" font-weight="700" font-size="11.2" letter-spacing="1.0" fill="#122c55" stroke="#122c55" stroke-width="0.7"><textPath href="#lb" startOffset="50%" text-anchor="middle">Live better</textPath></text>
<circle cx="88" cy="2010" r="6.1" fill="#f26b2f"/>
<rect x="97.3" y="2009.6" width="91.8" height="5.5" rx="1" fill="#4b98dd"/>
<g fill="none" stroke="#3f8fd6" stroke-width="6">
<path d="M88,2019.4V2043.9"/>
<path d="M118.2,2024.6A10,9.3 0 1 0 118.2,2038.7"/>
<path d="M126.3,2043.9V2030.4A8.5,8 0 0 1 143.3,2030.4V2043.9M143.3,2030.4A8.5,8 0 0 1 160.3,2030.4V2043.9"/>
<path d="M170.5,2023.4Q177,2021.5 181,2023.4Q185,2026 182.6,2030Q180,2033.4 172.6,2033.6L184.6,2042.6" stroke-linejoin="round"/>
</g>
</svg>
<div class="t" style="left:84.0px;top:2051.9px;font-size:9.3px;line-height:9.3px;color:#fff;transform:scaleX(1.0439);letter-spacing:0.04em;">INDIAN COUNCIL OF</div>
<div class="t" style="left:84.0px;top:2061.4px;font-size:9.3px;line-height:9.3px;color:#fff;transform:scaleX(1.0086);letter-spacing:0.04em;">MEDICAL RESEARCH</div>
</div></body></html>
